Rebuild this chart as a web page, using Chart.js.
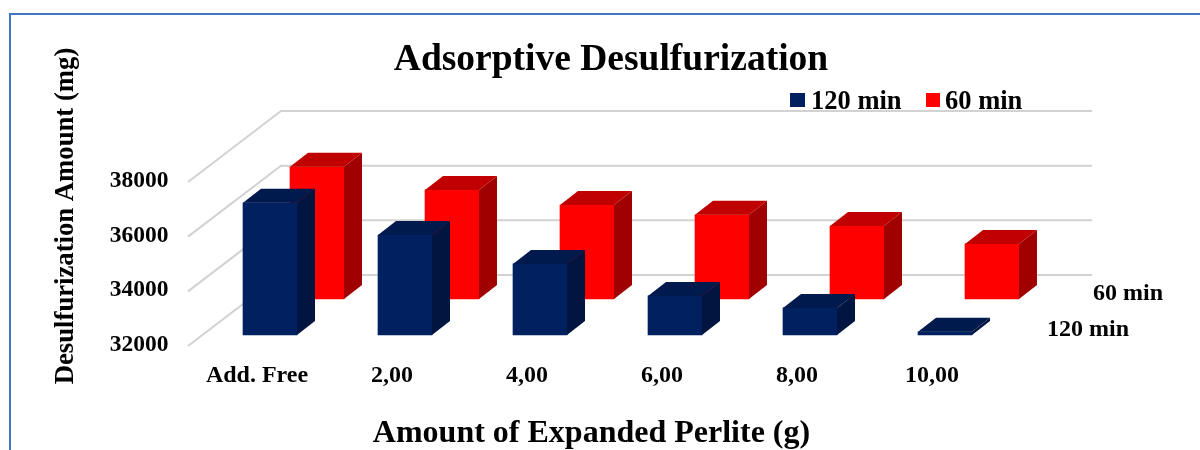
<!DOCTYPE html>
<html lang="en">

<head>
    <meta charset="UTF-8" />
    <title>Adsorptive Desulfurization</title>
    <script src="https://cdn.jsdelivr.net/npm/chart.js@4/dist/chart.umd.min.js"></script>
    <style>
        html, body { margin: 0; padding: 0; background: #fff; overflow: hidden; }
        #frame { position: absolute; left: 9px; top: 13px; width: 1191px; height: 440px; border-left: 2px solid #4472c4; border-top: 2px solid #4472c4; box-sizing: border-box; }
        #wrap { position: absolute; left: 0; top: 0; width: 1200px; height: 450px; }
    </style>
</head>

<body>
    <div id="frame"></div>
    <div id="wrap"><canvas id="chart" width="1200" height="450"></canvas></div>

    <script>
        const categories = ['Add. Free', '2,00', '4,00', '6,00', '8,00', '10,00'];
        const values120 = [36835, 35660, 34600, 33430, 32990, 32120];
        const values60 = [36835, 35990, 35440, 35080, 34670, 34015];
        const seriesNames = ['120 min', '60 min'];
        const chartTitle = 'Adsorptive Desulfurization';
        const xTitle = 'Amount of Expanded Perlite (g)';
        const yTitle = 'Desulfurization Amount (mg)';

        const serif = '"Liberation Serif", "Times New Roman", serif';
        const navy = { front: '#002060', side: '#001540', top: '#001a4d' };
        const red = { front: '#ff0000', side: '#a00000', top: '#c00000' };
        const depth = { dx: 18, dy: 14 }; // size of the side/top faces
        const shifts = [{ dx: 13, dy: -10 }, { dx: 60, dy: -46 }]; // fake 3d rows, front then back
        const faces = [navy, red];

        const fake3d = {
            id: 'fake3d',
            beforeDatasetsDraw(chart) {
                const { ctx, scales } = chart;
                ctx.save();
                ctx.strokeStyle = '#d2d2d2';
                ctx.lineWidth = 2;
                scales.y.ticks.forEach(t => {
                    const py = scales.y.getPixelForValue(t.value);
                    ctx.beginPath();
                    ctx.moveTo(188, py + 1);
                    ctx.lineTo(281, py - 70);
                    ctx.lineTo(1092, py - 70);
                    ctx.stroke();
                });
                ctx.restore();
            },
            beforeDatasetDraw(chart, args) {
                const s = shifts[args.index];
                chart.ctx.save();
                chart.ctx.translate(s.dx, s.dy);
            },
            afterDatasetDraw(chart, args) {
                const ctx = chart.ctx;
                const f = faces[args.index];
                args.meta.data.forEach(bar => {
                    const l = bar.x - bar.width / 2;
                    const r = bar.x + bar.width / 2;
                    ctx.fillStyle = f.side;
                    ctx.beginPath();
                    ctx.moveTo(r, bar.y);
                    ctx.lineTo(r + depth.dx, bar.y - depth.dy);
                    ctx.lineTo(r + depth.dx, bar.base - depth.dy);
                    ctx.lineTo(r, bar.base);
                    ctx.closePath();
                    ctx.fill();
                    ctx.fillStyle = f.top;
                    ctx.beginPath();
                    ctx.moveTo(l, bar.y);
                    ctx.lineTo(l + depth.dx, bar.y - depth.dy);
                    ctx.lineTo(r + depth.dx, bar.y - depth.dy);
                    ctx.lineTo(r, bar.y);
                    ctx.closePath();
                    ctx.fill();
                });
                ctx.restore();
            },
            afterDraw(chart) {
                const ctx = chart.ctx;
                ctx.save();
                ctx.fillStyle = '#000';
                ctx.textBaseline = 'middle';
                ctx.textAlign = 'center';
                ctx.font = 'bold 37.5px ' + serif;
                ctx.fillText(chartTitle, 611, 60);
                ctx.font = 'bold 32px ' + serif;
                ctx.fillText(xTitle, 591.5, 434);

                // legend
                ctx.textAlign = 'left';
                ctx.font = 'bold 26.5px ' + serif;
                ctx.fillStyle = navy.front;
                ctx.fillRect(790, 93, 15, 14);
                ctx.fillStyle = red.front;
                ctx.fillRect(926, 93, 14, 14);
                ctx.fillStyle = '#000';
                ctx.fillText(seriesNames[0], 811, 102);
                ctx.fillText(seriesNames[1], 945, 102);

                // series names on the depth axis
                ctx.font = 'bold 24px ' + serif;
                ctx.fillText(seriesNames[1], 1093, 294);
                ctx.fillText(seriesNames[0], 1047, 330);

                // y title sits higher than the axis centre
                ctx.translate(66, 216);
                ctx.rotate(-Math.PI / 2);
                ctx.textAlign = 'center';
                ctx.font = 'bold 26.7px ' + serif;
                ctx.fillText(yTitle, 0, 0);
                ctx.restore();
            }
        };

        new Chart(document.getElementById('chart').getContext('2d'), {
            type: 'bar',
            data: {
                labels: categories,
                datasets: [
                    { label: seriesNames[0], data: values120, base: 32000, backgroundColor: navy.front, clip: false, barThickness: 54, grouped: false },
                    { label: seriesNames[1], data: values60, base: 32000, backgroundColor: red.front, clip: false, barThickness: 54, grouped: false }
                ]
            },
            options: {
                responsive: false,
                animation: false,
                layout: { padding: { top: 181, right: 200.5, bottom: 5, left: 0 } },
                plugins: { legend: { display: false }, title: { display: false }, tooltip: { enabled: false } },
                scales: {
                    x: {
                        grid: { display: false },
                        border: { display: false },
                        afterFit: s => { s.height = 100; },
                        ticks: { color: '#000', padding: 8, maxRotation: 0, autoSkip: false, font: { family: serif, weight: 'bold', size: 24 } }
                    },
                    y: {
                        min: 32000,
                        max: 38000,
                        grid: { display: false },
                        border: { display: false },
                        afterFit: s => { s.width = 189.5; },
                        ticks: { stepSize: 2000, color: '#000', padding: 13, callback: v => String(v), font: { family: serif, weight: 'bold', size: 23.5 } }
                    }
                }
            },
            plugins: [fake3d]
        });
    </script>
</body>

</html>
